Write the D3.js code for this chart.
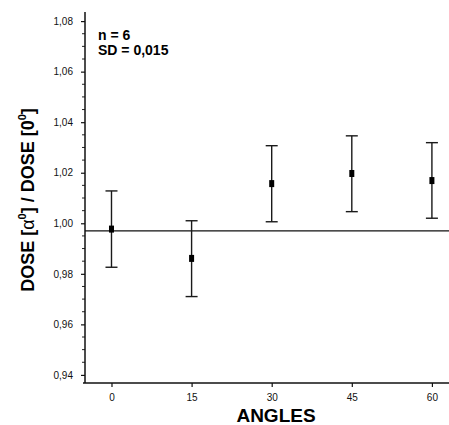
<!DOCTYPE html>
<html>
<head>
<meta charset="utf-8">
<script src="https://cdn.jsdelivr.net/npm/d3@7"></script>
<style>
  html, body { margin: 0; padding: 0; background: #fff; }
  svg { display: block; font-family: Arial, "Liberation Sans", sans-serif; }
</style>
</head>
<body>
<svg id="chart" width="449" height="425"></svg>
<script>
// ---- data ----
const angles = [0, 15, 30, 45, 60];
const meanRatio = [0.9977, 0.9861, 1.0157, 1.0197, 1.0169];
const lowerRatio = [0.9826, 0.9710, 1.0006, 1.0046, 1.0020];
const upperRatio = [1.0128, 1.0010, 1.0307, 1.0346, 1.0319];
const yTickValues = [0.94, 0.96, 0.98, 1.00, 1.02, 1.04, 1.06, 1.08];
const xTickValues = [0, 15, 30, 45, 60];
const referenceValue = 0.997;
const annotations = ["n = 6", "SD = 0,015"];

// ---- layout ----
const svg = d3.select("#chart");
const plotLeft = 85, plotRight = 449, plotTop = 12, plotBottom = 383;

const x = d3.scaleLinear().domain([-4.96, 63.2]).range([plotLeft, plotRight]);
const y = d3.scaleLinear().domain([0.9368, 1.0836]).range([plotBottom, plotTop]);

const fmt = d => d3.format(".2f")(d).replace(".", ",");

// minor y ticks
const minorY = d3.range(0.94, 1.0801, 0.005).filter(v => !yTickValues.some(t => Math.abs(t - v) < 1e-6));
svg.append("g").selectAll("line").data(minorY).join("line")
  .attr("x1", plotLeft - 3).attr("x2", plotLeft)
  .attr("y1", d => y(d)).attr("y2", d => y(d))
  .attr("stroke", "#222").attr("stroke-width", 1);

// y axis
const yAxis = d3.axisLeft(y).tickValues(yTickValues).tickFormat(fmt).tickSize(4).tickPadding(8);
const gy = svg.append("g").attr("transform", `translate(${plotLeft},0)`).call(yAxis);
gy.select(".domain").remove();
gy.selectAll(".tick line").attr("stroke", "#111").attr("stroke-width", 1.2);
gy.selectAll(".tick text").attr("font-size", 10).attr("fill", "#111")
  .attr("font-family", "Arial, 'Liberation Sans', sans-serif");
svg.append("line").attr("x1", plotLeft).attr("x2", plotLeft).attr("y1", plotTop).attr("y2", plotBottom)
  .attr("stroke", "#111").attr("stroke-width", 1.5);

// x axis
const xAxis = d3.axisBottom(x).tickValues(xTickValues).tickFormat(d3.format("d")).tickSize(4).tickPadding(7);
const gx = svg.append("g").attr("transform", `translate(0,${plotBottom})`).call(xAxis);
gx.select(".domain").remove();
gx.selectAll(".tick line").attr("stroke", "#111").attr("stroke-width", 1.2);
gx.selectAll(".tick text").attr("font-size", 10).attr("fill", "#111")
  .attr("font-family", "Arial, 'Liberation Sans', sans-serif");
svg.append("line").attr("x1", plotLeft - 2).attr("x2", plotRight).attr("y1", plotBottom).attr("y2", plotBottom)
  .attr("stroke", "#111").attr("stroke-width", 1.5);

// reference line
svg.append("line")
  .attr("x1", plotLeft).attr("x2", plotRight)
  .attr("y1", y(referenceValue)).attr("y2", y(referenceValue))
  .attr("stroke", "#111").attr("stroke-width", 1.3);

// error bars
const pts = angles.map((a, i) => ({ a, m: meanRatio[i], lo: lowerRatio[i], hi: upperRatio[i] }));
const eb = svg.append("g").attr("stroke", "#1a1a1a").attr("stroke-width", 1.4);
eb.selectAll(".v").data(pts).join("line")
  .attr("x1", d => x(d.a)).attr("x2", d => x(d.a))
  .attr("y1", d => y(d.lo)).attr("y2", d => y(d.hi));
eb.selectAll(".cu").data(pts).join("line")
  .attr("x1", d => x(d.a) - 6).attr("x2", d => x(d.a) + 6)
  .attr("y1", d => y(d.hi)).attr("y2", d => y(d.hi));
eb.selectAll(".cl").data(pts).join("line")
  .attr("x1", d => x(d.a) - 6).attr("x2", d => x(d.a) + 6)
  .attr("y1", d => y(d.lo)).attr("y2", d => y(d.lo));

// markers
svg.append("g").selectAll("rect").data(pts).join("rect")
  .attr("x", d => x(d.a) - 2.5).attr("y", d => y(d.m) - 3.5)
  .attr("width", 5).attr("height", 7).attr("fill", "#000");

// annotations
svg.append("text").attr("x", 98).attr("y", 40).attr("font-size", 14).attr("font-weight", "bold")
  .attr("fill", "#000").text(annotations[0]);
svg.append("text").attr("x", 98).attr("y", 55).attr("font-size", 14).attr("font-weight", "bold")
  .attr("fill", "#000").text(annotations[1]);

// x title
svg.append("text").attr("x", 276).attr("y", 422).attr("text-anchor", "middle")
  .attr("font-size", 19).attr("font-weight", "bold").attr("fill", "#000").text("ANGLES");

// y title with superscripts
const yt = svg.append("text")
  .attr("transform", "translate(34,200) rotate(-90)")
  .attr("text-anchor", "middle")
  .attr("font-size", 18).attr("font-weight", "bold").attr("fill", "#000");
yt.append("tspan").text("DOSE [");
yt.append("tspan").attr("font-weight", "normal").text("α");
yt.append("tspan").attr("font-size", 11).attr("dy", -8).text("0");
yt.append("tspan").attr("dy", 8).text("] / DOSE [0");
yt.append("tspan").attr("font-size", 11).attr("dy", -8).text("0");
yt.append("tspan").attr("dy", 8).text("]");
</script>
</body>
</html>
